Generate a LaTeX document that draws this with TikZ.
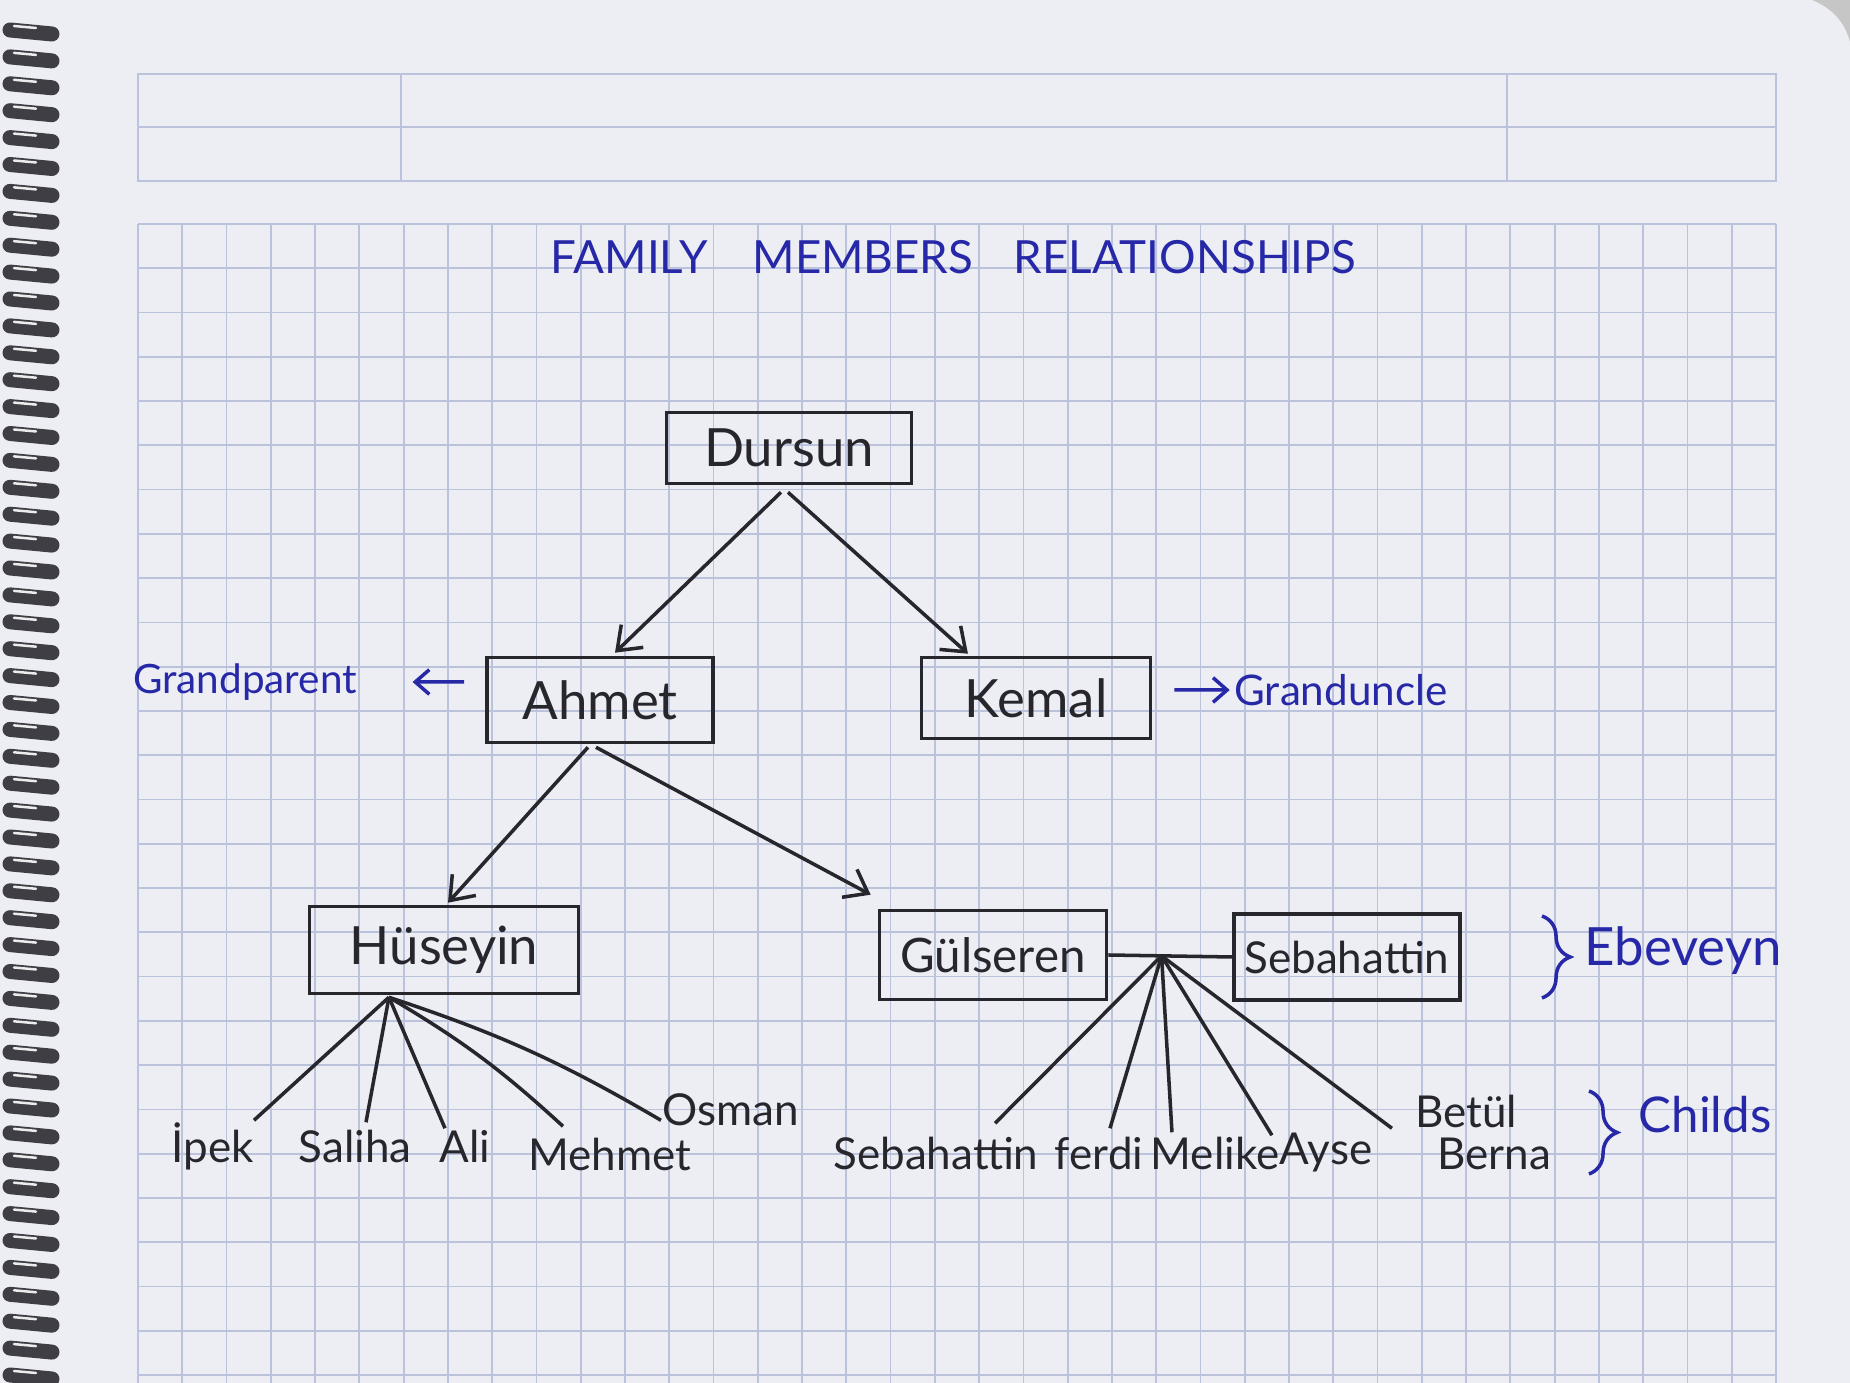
\documentclass[tikz,border=0pt]{standalone}
\usepackage{fontspec}
\setmainfont{Lato}
\usetikzlibrary{arrows.meta,decorations.pathreplacing,calc}
\definecolor{paper}{RGB}{236,238,243}
\definecolor{gridc}{RGB}{186,194,220}
\definecolor{ink}{RGB}{38,38,44}
\definecolor{blueink}{RGB}{38,40,168}
\definecolor{ring}{RGB}{62,62,68}
\begin{document}
\begin{tikzpicture}[x=0.01cm,y=-0.01cm,
  box/.style={draw=ink,line width=1pt,text=ink,font=\fontsize{15}{18}\selectfont,inner sep=0pt},
  kid/.style={text=ink,font=\fontsize{12.5}{15}\selectfont,inner sep=0pt,text height=0.34cm,text depth=0.08cm},
  note/.style={text=blueink,font=\fontsize{13}{16}\selectfont,inner sep=0pt},
  link/.style={draw=ink,line width=1pt},
  arr/.style={link,-{Straight Barb[length=6pt,width=9pt]}},
  barr/.style={draw=blueink,line width=1pt,-{Straight Barb[length=4pt,width=7pt]}},
  brc/.style={draw=blueink,line width=1pt,decorate,decoration={brace,amplitude=8pt}}]
\useasboundingbox (0,0) rectangle (1850,1383);
\fill[paper] (0,0) rectangle (1850,1383);
\fill[gray!45] (1812,0) .. controls (1832,8) and (1845,22) .. (1850,42) -- (1850,0) -- cycle;
% grid
\foreach \k in {0,...,37} \draw[gridc,line width=0.5pt] ({138+44.27*\k},224) -- ({138+44.27*\k},1383);
\foreach \k in {0,...,26} \draw[gridc,line width=0.5pt] (138,{224+44.27*\k}) -- (1776,{224+44.27*\k});
% header table
\draw[gridc,line width=0.6pt] (138,74) rectangle (1776,181);
\draw[gridc,line width=0.6pt] (138,127) -- (1776,127);
\draw[gridc,line width=0.6pt] (401,74) -- (401,181);
\draw[gridc,line width=0.6pt] (1507,74) -- (1507,181);
% spiral binding
\foreach \i in {0,...,50} {
  \fill[gray!60] (52,{33+26.9*\i}) circle (0.06cm);
  \draw[ring,line width=0.15cm,line cap=round] (10,{30+26.9*\i}) -- (52,{34+26.9*\i});
  \draw[gray!15,line width=0.025cm,line cap=round] (14,{26+26.9*\i}) -- (36,{28+26.9*\i});
}
% title
\node[note] (title) at (953,257) {FAMILY\hspace{0.45cm}MEMBERS\hspace{0.4cm}RELATIONSHIPS};
% boxes
\node[box,minimum width=2.45cm,minimum height=0.71cm] (dursun) at (789,448) {Dursun};
\node[box,minimum width=2.26cm,minimum height=0.85cm] (ahmet) at (600,700) {Ahmet};
\node[box,minimum width=2.29cm,minimum height=0.81cm] (kemal) at (1036,698) {Kemal};
\node[box,minimum width=2.69cm,minimum height=0.87cm] (huseyin) at (444,950) {Hüseyin};
\node[box,minimum width=2.27cm,minimum height=0.89cm,font=\fontsize{13.5}{16}\selectfont] (gulseren) at (993,955) {Gülseren};
\node[box,minimum width=2.26cm,minimum height=0.86cm,font=\fontsize{12.5}{15}\selectfont] (sebahattin) at (1347,957) {Sebahattin};
% notes
\node[note,font=\fontsize{11.5}{14}\selectfont] (gp) at (245,682) {Grandparent};
\node[note,font=\fontsize{12}{14}\selectfont] (gu) at (1341,690) {Granduncle};
\node[note,font=\fontsize{15}{18}\selectfont] (ebe) at (1683,951) {Ebeveyn};
\node[note,font=\fontsize{14}{17}\selectfont] (childs) at (1705,1115) {Childs};
% children
\node[kid] (ipek) at (213,1150) {İpek};
\node[kid] (saliha) at (355,1150) {Saliha};
\node[kid] (ali) at (465,1150) {Ali};
\node[kid] (mehmet) at (610,1158) {Mehmet};
\node[kid] (osman) at (731,1113) {Osman};
\node[kid] (sebc) at (936,1156) {Sebahattin};
\node[kid] (ferdi) at (1099,1156) {ferdi};
\node[kid] (melike) at (1215,1156) {Melike};
\node[kid] (ayse) at (1326,1152) {Ayse};
\node[kid] (betul) at (1466,1115) {Betül};
\node[kid] (berna) at (1494,1156) {Berna};
% arrows
\draw[arr] ([xshift=-0.08cm,yshift=-0.07cm]dursun.south) -- ([xshift=0.15cm,yshift=0.03cm]ahmet.north);
\draw[arr] ([xshift=-0.01cm,yshift=-0.07cm]dursun.south) -- ([xshift=-0.68cm,yshift=0.02cm]kemal.north);
\draw[arr] ([xshift=-0.12cm,yshift=-0.03cm]ahmet.south) -- ([xshift=0.04cm,yshift=0.02cm]huseyin.north);
\draw[arr] ([xshift=-0.04cm,yshift=-0.03cm]ahmet.south) -- ([xshift=-0.07cm,yshift=0.14cm]gulseren.north west);
\draw[barr] ([xshift=-0.21cm,yshift=0.18cm]ahmet.west) -- ([xshift=0.55cm]gp.east);
\draw[barr] ([xshift=0.22cm,yshift=0.08cm]kemal.east) -- ([xshift=-0.04cm]gu.west);
% marriage line and hubs
\draw[link] (gulseren.east) -- (sebahattin.west);
\coordinate (jj) at ($(gulseren.east)!0.43!(sebahattin.west)$);
\coordinate (hh) at ([xshift=-0.55cm,yshift=-0.02cm]huseyin.south);
% child lines
\draw[link] (hh) -- ([xshift=0.41cm,yshift=0.08cm]ipek.north);
\draw[link] (hh) -- ([xshift=0.11cm,yshift=0.06cm]saliha.north);
\draw[link] (hh) -- ([xshift=-0.2cm]ali.north);
\draw[link] (hh) to[bend left=6] ([xshift=-0.47cm,yshift=0.1cm]mehmet.north);
\draw[link] (hh) to[bend left=6] ([xshift=-0.7cm,yshift=-0.29cm]osman.north);
\draw[link] (jj) -- ([xshift=0.59cm,yshift=0.11cm]sebc.north);
\draw[link] (jj) -- ([xshift=0.11cm,yshift=0.06cm]ferdi.north);
\draw[link] (jj) -- ([xshift=-0.43cm,yshift=0.02cm]melike.north);
\draw[link] (jj) -- ([xshift=-0.54cm,yshift=-0.05cm]ayse.north);
\draw[link] (jj) -- ([xshift=-0.74cm,yshift=-0.35cm]betul.north);
% braces
\coordinate (b1t) at (1542,916);
\coordinate (b1b) at (1542,998);
\coordinate (b2t) at (1589,1091);
\coordinate (b2b) at (1589,1174);
\draw[brc] (b1t) -- (b1b);
\draw[brc] (b2t) -- (b2b);
\end{tikzpicture}
\end{document}
